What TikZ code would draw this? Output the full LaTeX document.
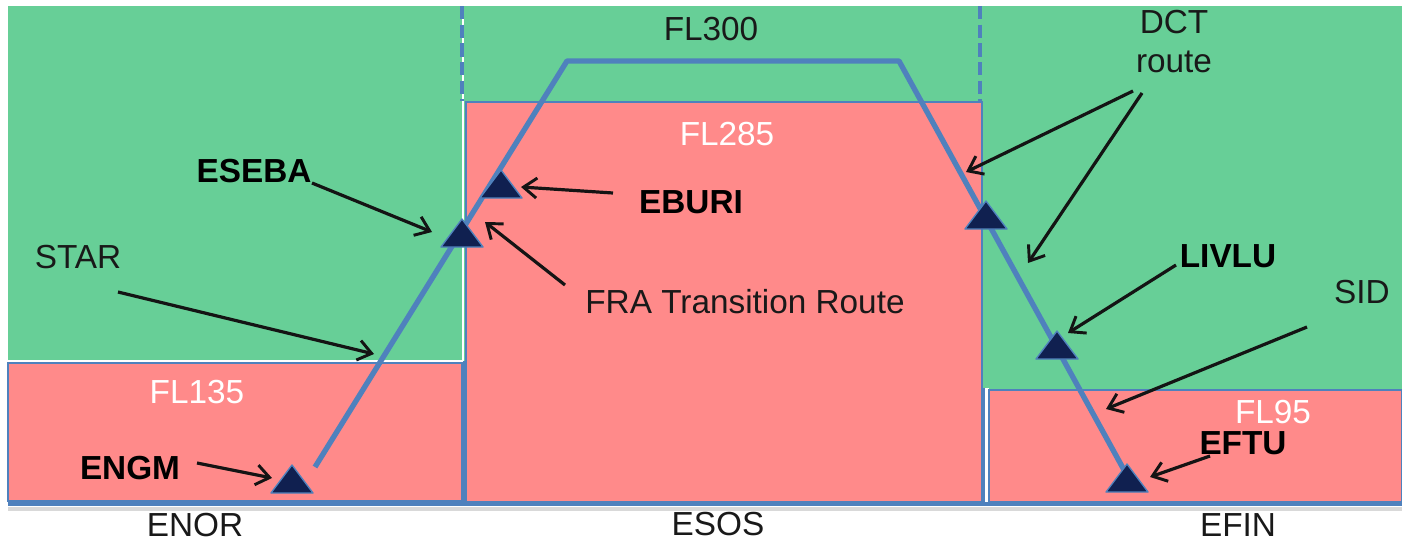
\documentclass[tikz,border=0pt]{standalone}
\usepackage{fontspec}
\setmainfont{Liberation Sans}
\usetikzlibrary{arrows.meta,calc}
\definecolor{grn}{RGB}{103,207,151}
\definecolor{pnk}{RGB}{255,138,138}
\definecolor{rblue}{RGB}{79,129,189}
\definecolor{navy}{RGB}{16,32,80}
\definecolor{txt}{RGB}{25,25,25}
\begin{document}
\begin{tikzpicture}[x=0.75pt,y=-0.75pt,
  lbl/.style={font=\fontsize{25}{29.25}\selectfont, inner sep=0pt, text=txt, anchor=base},
  wlbl/.style={lbl, text=white},
  blbl/.style={lbl, font=\fontsize{25}{29.25}\selectfont\bfseries, text=black},
  ptr/.style={-{Straight Barb[length=10pt,width=15pt,line width=2.2pt]}, line width=2.4pt, black!92},
  tri/.style={fill=navy, draw=rblue, line width=1pt, line join=round},
  route/.style={rblue, line width=4pt, line join=round},
  zone/.style={draw=rblue, line width=0.8pt},
  divider/.style={rblue, line width=3pt, dash pattern=on 10pt off 4pt},
  wpt/.pic={\draw[tri] (-21,0) -- (21,0) -- (0,-28) -- cycle;}
]
\useasboundingbox (0,0) rectangle (1402,543);
\fill[white] (0,0) rectangle (1402,543);
% green upper band
\fill[grn] (8,6) rectangle (1402,502);
% left green box outline
\draw[white, line width=1.5pt] (8,361) -- (463,361) -- (463,6);
% pink zones
\filldraw[fill=pnk, zone] (8,363) rectangle (462,501);
\filldraw[fill=pnk, zone] (466,102) rectangle (982,502);
\fill[white] (983,388) rectangle (989,502);
\filldraw[fill=pnk, zone] (989,390) rectangle (1402,502);
\draw[rblue, line width=1.5pt] (464,361) -- (464,502);
\draw[rblue, line width=0.8pt] (984,388) -- (984,502);
% dashed sector borders
\draw[divider] (462,6) -- (462,101);
\draw[divider] (980,6) -- (980,101);
% ground line
\draw[black!15, line width=3pt] (8,509) -- (1402,509);
\draw[rblue, line width=3.5pt] (8,504) -- (1402,504);

% route
\coordinate (r0) at (315,467);
\coordinate (r1) at (567,61);
\coordinate (r2) at (899,61);
\coordinate (r3) at (1124,470);
\draw[route] (r0) -- (r1) -- (r2) -- (r3);

% waypoints
\pic (engmT) at (292,493) {wpt};
\pic (esebaT) at (462,247) {wpt};
\pic (eburiT) at (501,198) {wpt};
\pic (dctT) at (986,229) {wpt};
\pic (livluT) at (1057,359) {wpt};
\pic (eftuT) at (1127,492) {wpt};

% labels
\node[lbl] (fl300) at (711,40) {FL300};
\node[wlbl] (fl285) at (727,145) {FL285};
\node[wlbl] (fl135) at (197,403) {FL135};
\node[wlbl] (fl95) at (1273,423) {FL95};
\node[lbl] (star) at (78,268) {STAR};
\node[blbl] (eseba) at (254,182) {ESEBA};
\node[blbl] (eburi) at (691,213) {EBURI};
\node[blbl] (engm) at (130,479) {ENGM};
\node[lbl] (fra) at (745,313) {FRA Transition Route};
\node[lbl, anchor=north, align=center] (dct) at (1174,10) {DCT\\route};
\node[blbl] (livlu) at (1228,267) {LIVLU};
\node[lbl] (sid) at (1362,303) {SID};
\node[blbl] (eftu) at (1243,454) {EFTU};
\node[lbl] (enor) at (195,536) {ENOR};
\node[lbl] (esos) at (718,535) {ESOS};
\node[lbl] (efin) at (1238,536) {EFIN};

% arrow ends
\coordinate (esebaS) at (312,183); \coordinate (esebaE) at (432,232);
\coordinate (starS) at (118,292);  \coordinate (starE) at (374,354);
\coordinate (engmS) at (197,463);  \coordinate (engmE) at (272,478);
\coordinate (eburiS) at (613,193); \coordinate (eburiE) at (521,187);
\coordinate (fraS) at (565,285);   \coordinate (fraE) at (485,222);
\coordinate (dctSa) at (1133,91);  \coordinate (dctEa) at (966,172);
\coordinate (dctSb) at (1142,93);  \coordinate (dctEb) at (1028,263);
\coordinate (livluS) at (1176,265);\coordinate (livluE) at (1068,333);
\coordinate (sidS) at (1307,327);  \coordinate (sidE) at (1106,409);
\coordinate (eftuS) at (1210,456); \coordinate (eftuE) at (1150,477);

\draw[ptr] (esebaS) -- (esebaE);
\draw[ptr] (starS) -- (starE);
\draw[ptr] (engmS) -- (engmE);
\draw[ptr] (eburiS) -- (eburiE);
\draw[ptr] (fraS) -- (fraE);
\draw[ptr] (dctSa) -- (dctEa);
\draw[ptr] (dctSb) -- (dctEb);
\draw[ptr] (livluS) -- (livluE);
\draw[ptr] (sidS) -- (sidE);
\draw[ptr] (eftuS) -- (eftuE);
\end{tikzpicture}
\end{document}
